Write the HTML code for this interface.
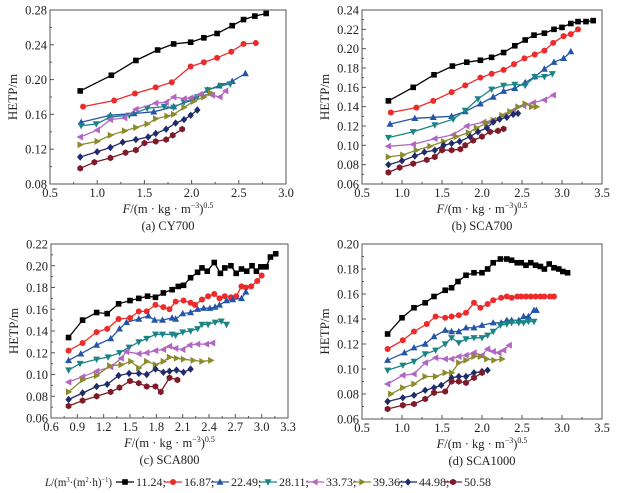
<!DOCTYPE html>
<html><head><meta charset="utf-8"><style>
html,body{margin:0;padding:0;background:#fff;}
svg{display:block;font-family:"Liberation Serif",serif;}
</style></head><body>
<svg id="chart" width="624" height="493" viewBox="0 0 624 493" xmlns="http://www.w3.org/2000/svg"></svg>
<script>
// Series labels
const seriesLabels = ["11.24","16.87","22.49","28.11","33.73","39.36","44.98","50.58"];
const seriesColors = ["#000000","#ee2b2b","#2456a8","#1b8585","#b266c4","#8b8b2e","#1f2b6b","#7e1a2a"];
const seriesMarkers = ["square","circle","up","down","left","right","diamond","hex"];

// Panel (a) CY700
const aX = [
 [0.82,1.15,1.41,1.64,1.81,1.99,2.13,2.27,2.43,2.55,2.67,2.79],
 [0.85,1.18,1.40,1.62,1.79,1.99,2.13,2.27,2.42,2.55,2.68],
 [0.83,1.14,1.39,1.60,1.81,2.02,2.17,2.29,2.43,2.57],
 [0.83,0.99,1.14,1.34,1.53,1.71,1.81,1.92,2.06,2.17,2.31,2.41],
 [0.82,1.00,1.14,1.29,1.41,1.62,1.73,1.81,1.92,1.99,2.09,2.22,2.30,2.36],
 [0.82,1.00,1.14,1.29,1.41,1.53,1.62,1.74,1.81,1.92,2.02,2.13,2.20],
 [0.82,1.00,1.14,1.27,1.41,1.54,1.62,1.73,1.83,1.92,1.99,2.06],
 [0.82,0.97,1.14,1.30,1.41,1.50,1.62,1.73,1.80,1.90]];
const aY = [
 [0.187,0.205,0.222,0.234,0.241,0.243,0.248,0.253,0.262,0.269,0.273,0.276],
 [0.169,0.176,0.184,0.191,0.197,0.215,0.220,0.225,0.232,0.241,0.242],
 [0.151,0.159,0.161,0.163,0.169,0.177,0.188,0.193,0.198,0.207],
 [0.147,0.149,0.157,0.159,0.167,0.169,0.168,0.174,0.180,0.188,0.193,0.195],
 [0.134,0.142,0.154,0.156,0.166,0.173,0.174,0.180,0.178,0.179,0.183,0.182,0.180,0.187],
 [0.125,0.129,0.136,0.141,0.145,0.149,0.155,0.158,0.160,0.168,0.175,0.180,0.185],
 [0.111,0.117,0.122,0.128,0.131,0.134,0.138,0.143,0.150,0.154,0.159,0.165],
 [0.098,0.105,0.110,0.116,0.119,0.127,0.129,0.131,0.136,0.143]];

// Panel (b) SCA700
const bX = [
 [0.83,1.14,1.40,1.63,1.81,1.98,2.12,2.27,2.41,2.54,2.65,2.78,2.90,3.00,3.11,3.20,3.30,3.39],
 [0.86,1.18,1.39,1.62,1.79,1.98,2.12,2.27,2.40,2.53,2.66,2.78,2.89,3.02,3.11,3.20],
 [0.85,1.16,1.39,1.62,1.79,1.98,2.14,2.27,2.41,2.54,2.66,2.78,2.90,3.02,3.11],
 [0.83,1.14,1.41,1.64,1.79,1.95,2.12,2.27,2.41,2.54,2.66,2.78,2.88],
 [0.83,1.14,1.41,1.64,1.81,2.02,2.14,2.27,2.39,2.52,2.64,2.78,2.89],
 [0.83,1.01,1.18,1.35,1.52,1.68,1.83,1.93,2.06,2.14,2.25,2.35,2.45,2.54,2.62,2.68],
 [0.83,1.00,1.16,1.28,1.41,1.52,1.62,1.72,1.85,1.95,2.06,2.14,2.22,2.31,2.39,2.45],
 [0.83,0.97,1.14,1.31,1.41,1.50,1.62,1.73,1.79,1.89,2.00,2.10,2.20,2.27]];
const bY = [
 [0.146,0.160,0.173,0.182,0.186,0.188,0.191,0.196,0.203,0.209,0.214,0.216,0.220,0.222,0.226,0.228,0.228,0.229],
 [0.134,0.139,0.146,0.155,0.162,0.170,0.174,0.178,0.184,0.190,0.194,0.198,0.206,0.213,0.215,0.220],
 [0.122,0.128,0.129,0.130,0.135,0.143,0.150,0.156,0.159,0.165,0.171,0.179,0.186,0.190,0.197],
 [0.108,0.114,0.121,0.127,0.136,0.148,0.158,0.162,0.163,0.162,0.171,0.171,0.174],
 [0.099,0.101,0.107,0.111,0.120,0.124,0.126,0.131,0.136,0.141,0.144,0.147,0.152],
 [0.088,0.090,0.095,0.099,0.104,0.109,0.113,0.118,0.123,0.126,0.131,0.135,0.140,0.143,0.140,0.140],
 [0.080,0.084,0.089,0.093,0.095,0.100,0.102,0.104,0.109,0.114,0.118,0.124,0.127,0.129,0.132,0.133],
 [0.072,0.077,0.081,0.085,0.088,0.095,0.095,0.096,0.100,0.105,0.109,0.114,0.115,0.117]];

// Panel (c) SCA800
const cX = [
 [0.80,0.96,1.12,1.24,1.37,1.50,1.60,1.70,1.79,1.88,1.98,2.05,2.11,2.19,2.27,2.32,2.38,2.46,2.53,2.58,2.65,2.71,2.77,2.83,2.89,2.94,2.99,3.05,3.10,3.16],
 [0.80,0.96,1.12,1.24,1.37,1.50,1.60,1.69,1.79,1.88,1.95,2.02,2.11,2.19,2.24,2.32,2.39,2.46,2.52,2.58,2.65,2.71,2.77,2.82,2.88,2.95,3.00],
 [0.80,0.94,1.12,1.28,1.38,1.46,1.60,1.71,1.78,1.87,1.98,2.02,2.10,2.19,2.27,2.34,2.41,2.47,2.52,2.60,2.67,2.77,2.82],
 [0.80,0.93,1.12,1.25,1.38,1.49,1.60,1.69,1.79,1.87,1.98,2.02,2.10,2.19,2.27,2.32,2.39,2.47,2.54,2.60],
 [0.80,0.96,1.12,1.28,1.40,1.46,1.60,1.69,1.79,1.88,1.95,2.02,2.10,2.18,2.27,2.37,2.44],
 [0.80,0.96,1.12,1.27,1.40,1.51,1.60,1.69,1.79,1.88,1.95,2.03,2.11,2.22,2.32,2.42],
 [0.80,0.96,1.12,1.24,1.37,1.49,1.60,1.69,1.79,1.88,1.95,2.03,2.11,2.19],
 [0.80,0.96,1.12,1.28,1.38,1.50,1.60,1.69,1.79,1.85,1.95,2.04]];
const cY = [
 [0.134,0.150,0.157,0.156,0.165,0.168,0.170,0.172,0.171,0.175,0.178,0.181,0.182,0.189,0.194,0.198,0.195,0.203,0.193,0.198,0.200,0.193,0.197,0.195,0.200,0.195,0.199,0.199,0.208,0.211],
 [0.122,0.129,0.139,0.142,0.151,0.152,0.158,0.158,0.164,0.162,0.160,0.167,0.168,0.166,0.164,0.169,0.172,0.174,0.170,0.172,0.171,0.172,0.181,0.180,0.181,0.186,0.191],
 [0.113,0.119,0.127,0.133,0.142,0.148,0.151,0.154,0.150,0.150,0.152,0.151,0.156,0.157,0.160,0.161,0.161,0.162,0.164,0.168,0.169,0.170,0.176],
 [0.104,0.110,0.114,0.116,0.120,0.125,0.130,0.133,0.137,0.137,0.137,0.136,0.139,0.140,0.142,0.146,0.146,0.148,0.149,0.146],
 [0.093,0.098,0.103,0.107,0.115,0.121,0.119,0.120,0.122,0.123,0.126,0.124,0.123,0.127,0.128,0.128,0.129],
 [0.084,0.095,0.099,0.108,0.109,0.112,0.106,0.112,0.109,0.112,0.116,0.115,0.114,0.113,0.112,0.113],
 [0.077,0.083,0.089,0.091,0.099,0.101,0.101,0.100,0.105,0.102,0.103,0.104,0.102,0.105],
 [0.071,0.076,0.080,0.084,0.088,0.094,0.092,0.089,0.089,0.084,0.097,0.095]];

// Panel (d) SCA1000
const dX = [
 [0.82,1.00,1.15,1.29,1.40,1.54,1.62,1.70,1.80,1.90,2.00,2.07,2.14,2.23,2.31,2.37,2.44,2.49,2.55,2.61,2.67,2.73,2.78,2.84,2.90,2.96,3.01,3.07],
 [0.82,1.01,1.15,1.31,1.42,1.54,1.62,1.71,1.80,1.90,1.98,2.07,2.14,2.24,2.31,2.37,2.44,2.49,2.55,2.61,2.67,2.73,2.78,2.85,2.90],
 [0.82,1.03,1.15,1.29,1.40,1.54,1.62,1.71,1.80,1.90,2.00,2.14,2.24,2.31,2.37,2.46,2.52,2.58,2.65,2.68],
 [0.82,1.01,1.15,1.29,1.42,1.54,1.62,1.71,1.80,1.90,2.00,2.07,2.14,2.23,2.31,2.37,2.46,2.52,2.58,2.65],
 [0.82,1.01,1.15,1.29,1.42,1.54,1.62,1.71,1.80,1.90,2.00,2.07,2.14,2.21,2.27,2.34],
 [0.86,1.01,1.15,1.29,1.42,1.54,1.62,1.71,1.80,1.90,1.98,2.06,2.15,2.25],
 [0.82,1.01,1.15,1.29,1.40,1.49,1.62,1.71,1.80,1.90,2.00,2.07],
 [0.82,1.01,1.15,1.29,1.40,1.54,1.62,1.71,1.80,1.90,2.00]];
const dY = [
 [0.128,0.141,0.149,0.153,0.158,0.163,0.165,0.170,0.175,0.177,0.177,0.180,0.185,0.188,0.188,0.187,0.185,0.185,0.183,0.185,0.183,0.182,0.180,0.184,0.181,0.180,0.178,0.177],
 [0.116,0.123,0.130,0.136,0.142,0.141,0.142,0.143,0.145,0.153,0.149,0.152,0.155,0.157,0.158,0.157,0.158,0.158,0.158,0.158,0.158,0.158,0.158,0.158,0.158],
 [0.107,0.113,0.117,0.120,0.126,0.131,0.130,0.130,0.133,0.133,0.135,0.137,0.137,0.139,0.139,0.139,0.142,0.142,0.147,0.147],
 [0.099,0.103,0.106,0.112,0.115,0.120,0.125,0.121,0.124,0.125,0.125,0.127,0.130,0.135,0.136,0.137,0.137,0.137,0.138,0.138],
 [0.088,0.095,0.096,0.105,0.109,0.108,0.108,0.110,0.111,0.113,0.111,0.116,0.114,0.113,0.115,0.119],
 [0.080,0.085,0.088,0.094,0.094,0.097,0.097,0.105,0.107,0.110,0.110,0.108,0.107,0.108],
 [0.074,0.077,0.079,0.083,0.085,0.087,0.093,0.094,0.094,0.097,0.098,0.099],
 [0.068,0.071,0.072,0.076,0.081,0.082,0.090,0.090,0.089,0.093,0.097]];

const aXTicks=[0.5,1.0,1.5,2.0,2.5,3.0], aYTicks=[0.08,0.12,0.16,0.20,0.24,0.28];
const bXTicks=[0.5,1.0,1.5,2.0,2.5,3.0,3.5], bYTicks=[0.06,0.08,0.10,0.12,0.14,0.16,0.18,0.20,0.22,0.24];
const cXTicks=[0.6,0.9,1.2,1.5,1.8,2.1,2.4,2.7,3.0,3.3], cYTicks=[0.06,0.08,0.10,0.12,0.14,0.16,0.18,0.20,0.22];
const dXTicks=[0.5,1.0,1.5,2.0,2.5,3.0,3.5], dYTicks=[0.06,0.08,0.10,0.12,0.14,0.16,0.18,0.20];

const NS="http://www.w3.org/2000/svg";
const svg=document.getElementById('chart');
function mk(tag,attrs,parent){const e=document.createElementNS(NS,tag);for(const k in attrs)e.setAttribute(k,attrs[k]);(parent||svg).appendChild(e);return e;}

function marker(g,type,cx,cy,color){
  const r=3.2;let el;
  if(type==="square") el=mk('rect',{x:cx-2.8,y:cy-2.8,width:5.6,height:5.6,fill:color},g);
  else if(type==="circle") el=mk('circle',{cx:cx,cy:cy,r:3,fill:color},g);
  else {
    let pts;
    if(type==="up") pts=[[0,-r-0.5],[r+0.3,r-0.5],[-r-0.3,r-0.5]];
    else if(type==="down") pts=[[0,r+0.5],[r+0.3,-r+0.5],[-r-0.3,-r+0.5]];
    else if(type==="left") pts=[[-r-0.5,0],[r-0.5,-r-0.3],[r-0.5,r+0.3]];
    else if(type==="right") pts=[[r+0.5,0],[-r+0.5,-r-0.3],[-r+0.5,r+0.3]];
    else if(type==="diamond") pts=[[0,-r-0.5],[r,0],[0,r+0.5],[-r,0]];
    else {pts=[];for(let i=0;i<6;i++){const a=Math.PI/6+i*Math.PI/3;pts.push([3.3*Math.cos(a),3.3*Math.sin(a)]);}}
    el=mk('polygon',{points:pts.map(p=>(cx+p[0]).toFixed(1)+','+(cy+p[1]).toFixed(1)).join(' '),fill:color},g);
  }
  return el;
}

function panel(key,L,R,T,B,xTicks,yTicks,xs,ys,caption){
  const xmin=xTicks[0],xmax=xTicks[xTicks.length-1],ymin=yTicks[0],ymax=yTicks[yTicks.length-1];
  const sx=v=>L+(v-xmin)/(xmax-xmin)*(R-L);
  const sy=v=>B-(v-ymin)/(ymax-ymin)*(B-T);
  const g=mk('g',{});
  
  
  const frame=mk('rect',{x:L,y:T,width:R-L,height:B-T,fill:'none',stroke:'#555',"stroke-width":1},g);
  
  
  xTicks.forEach((t,i)=>{
    const x=sx(t);
    mk('line',{x1:x,y1:B,x2:x,y2:B-4,stroke:'#555'},g);
    if(i<xTicks.length-1){const xm=sx(t+(xTicks[1]-xTicks[0])/2);mk('line',{x1:xm,y1:B,x2:xm,y2:B-2,stroke:'#555'},g);}
    const tx=mk('text',{x:x,y:B+13,"text-anchor":"middle","font-size":"12.5",fill:'#222'},g);
    tx.textContent=t.toFixed(1);
    
    
  });
  yTicks.forEach((t,i)=>{
    const y=sy(t);
    mk('line',{x1:L,y1:y,x2:L+4,y2:y,stroke:'#555'},g);
    if(i<yTicks.length-1){const ym=sy(t+(yTicks[1]-yTicks[0])/2);mk('line',{x1:L,y1:ym,x2:L+2,y2:ym,stroke:'#555'},g);}
    const ty=mk('text',{x:L-3,y:y+4.5,"text-anchor":"end","font-size":"12.5",fill:'#222'},g);
    ty.textContent=t.toFixed(2);
    
    
  });
  const yt=mk('text',{x:0,y:0,transform:`translate(${L-33},${(T+B)/2}) rotate(-90)`,"text-anchor":"middle","font-size":"13",fill:'#222'},g);
  yt.textContent='HETP/m';
  
  
  const xt=mk('text',{x:(L+R)/2,y:B+29,"text-anchor":"middle","font-size":"12.5",fill:'#222'},g);
  xt.innerHTML='<tspan font-style="italic">F</tspan>/(m · kg · m<tspan font-size="8" dy="-5">−3</tspan><tspan dy="5">)</tspan><tspan font-size="8" dy="-5">0.5</tspan>';
  
  
  const cp=mk('text',{x:(L+R)/2,y:B+46,"text-anchor":"middle","font-size":"12.5",fill:'#222'},g);
  cp.textContent=caption;
  
  
  xs.forEach((sxArr,si)=>{
    const sg=mk('g',{},g);
    
    
    const pts=sxArr.map((v,i)=>sx(v).toFixed(1)+','+sy(ys[si][i]).toFixed(1)).join(' ');
    const pl=mk('polyline',{points:pts,fill:'none',stroke:seriesColors[si],"stroke-width":1.3},sg);
    
    
    sxArr.forEach((v,i)=>{
      const m=marker(sg,seriesMarkers[si],sx(v),sy(ys[si][i]),seriesColors[si]);
      
      
    });
  });
}

panel('a',50,286,10,184,aXTicks,aYTicks,aX,aY,'(a) CY700');
panel('b',362,602,10,184,bXTicks,bYTicks,bX,bY,'(b) SCA700');
panel('c',51,288,244,418,cXTicks,cYTicks,cX,cY,'(c) SCA800');
panel('d',362,602,244,419,dXTicks,dYTicks,dX,dY,'(d) SCA1000');

// legend
const lg=mk('g',{});


const lt=mk('text',{x:45,y:486,"font-size":"12",fill:'#222',textLength:"67",lengthAdjust:"spacingAndGlyphs"},lg);
lt.innerHTML='<tspan font-style="italic">L</tspan>/(m<tspan font-size="7" dy="-4">3</tspan><tspan dy="4">·(m</tspan><tspan font-size="7" dy="-4">2</tspan><tspan dy="4">·h)</tspan><tspan font-size="7" dy="-4">−1</tspan><tspan dy="4">)</tspan>';


const lx=[125,173,220,268,315,362,408,453];
seriesLabels.forEach((s,i)=>{
  const eg=mk('g',{},lg);
  
  
  const x=lx[i];
  mk('line',{x1:x-9,y1:482,x2:x+9,y2:482,stroke:seriesColors[i],"stroke-width":1.3},eg);
  marker(eg,seriesMarkers[i],x,482,seriesColors[i]);
  const t=mk('text',{x:x+11,y:486,"font-size":"12",fill:'#222'},eg);
  t.textContent=s+(i<7?';':'');
});
</script>
</body></html>
